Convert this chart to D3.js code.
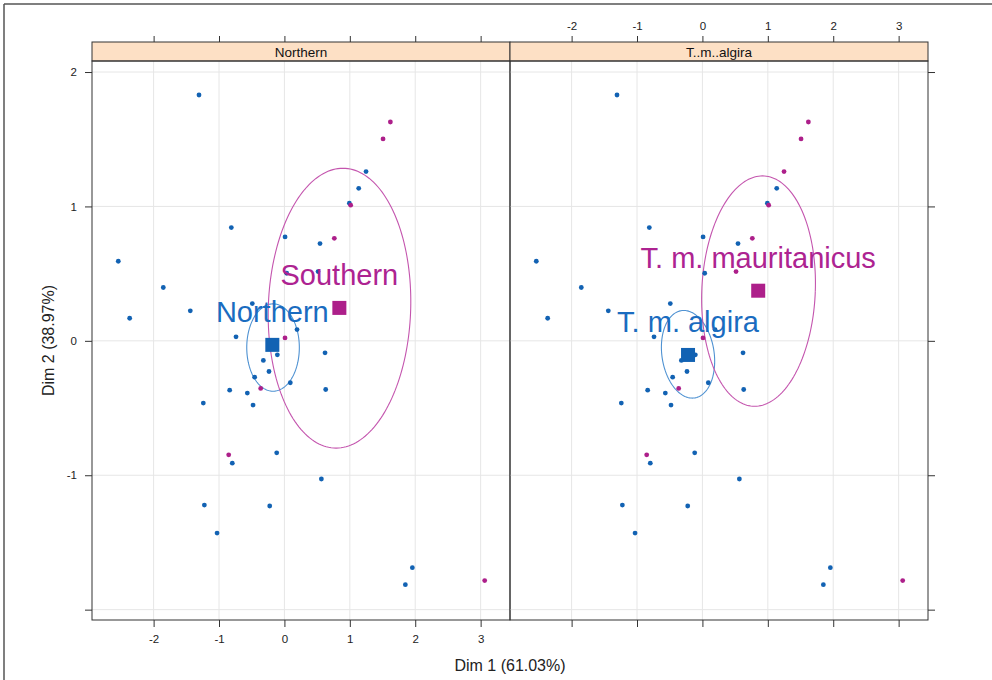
<!DOCTYPE html>
<html>
<head>
<meta charset="utf-8">
<script src="https://cdn.jsdelivr.net/npm/d3@7"></script>
<style>
  body { margin: 0; background: #fff; }
  svg { font-family: "Liberation Sans", Arial, sans-serif; }
</style>
</head>
<body>
<svg id="chart" width="992" height="680"></svg>
<script>
// individual scores on the first two dimensions
const dim1 = [-1.306, 1.62, 1.508, 1.248, 1.136, 0.993, 1.013, -0.812, 0.01, 0.544,
  0.763, -2.54, -1.852, -2.366, -1.439, -0.491, 0.035, 0.514, 0.193, -0.74,
  0.009, -0.108, 0.621, -0.322, -0.236, -0.455, 0.09, -0.363, -0.837, -0.567,
  0.631, -1.24, -0.48, -0.852, -0.797, -0.118, 0.565, -1.224, -0.225, -1.03,
  1.956, 1.849, 3.062];
const dim2 = [1.829, 1.628, 1.502, 1.259, 1.135, 1.024, 1.009, 0.843, 0.773, 0.724,
  0.763, 0.592, 0.397, 0.168, 0.223, 0.277, 0.503, 0.515, 0.084, 0.03,
  0.022, -0.104, -0.089, -0.146, -0.228, -0.27, -0.312, -0.354, -0.367, -0.389,
  -0.362, -0.463, -0.478, -0.848, -0.91, -0.833, -1.028, -1.222, -1.229, -1.43,
  -1.688, -1.814, -1.784];
const region = ['N','S','S','N','N','N','S','N','N','N',
  'S','N','N','N','N','N','N','N','N','N',
  'S','N','N','N','N','N','N','S','N','N',
  'N','N','N','S','N','N','N','N','N','N',
  'N','N','S'];
const subsp = ['A','M','M','M','A','A','M','A','A','A',
  'M','A','A','A','A','A','A','M','A','A',
  'M','A','A','A','A','A','A','M','A','A',
  'A','A','A','M','A','A','A','A','A','A',
  'A','A','M'];

const panelNames = ['Northern', 'T..m..algira'];
const xTicks = [-2, -1, 0, 1, 2, 3];
const xTickLabels = ['-2', '-1', '0', '1', '2', '3'];
const yTicks = [-2, -1, 0, 1, 2];
const yTickLabels = ['', '-1', '0', '1', '2'];

// group centroids, labels and ellipses per panel (first = blue group, second = magenta group)
const groupLabels = [['Northern', 'Southern'], ['T. m. algira', 'T. m. mauritanicus']];
const centroidX = [[-0.185, 0.84], [-0.22, 0.853]];
const centroidY = [[-0.03, 0.245], [-0.105, 0.373]];
const ellipseCx = [[-0.174, 0.842], [-0.22, 0.858]];
const ellipseCy = [[-0.05, 0.243], [-0.1, 0.37]];
const ellipseRx = [[0.402, 1.089], [0.402, 0.868]];
const ellipseRy = [[0.325, 1.041], [0.326, 0.857]];
const ellipseTilt = [[0, 0.05], [-0.2, 0.07]];

const BLUE = '#1262b3';
const MAGENTA = '#ad1f8a';
const ELL = ['#4f92d2', '#c455ae'];

const PANEL_W = 418;
const LEFT = 92;
const STRIP_TOP = 42;
const STRIP_H = 19;
const PANEL_TOP = STRIP_TOP + STRIP_H;
const PANEL_BOTTOM = 620;

const svg = d3.select('#chart');

// outer frame
svg.append('line').attr('x1', 4).attr('x2', 992).attr('y1', 4).attr('y2', 4)
  .attr('stroke', '#555').attr('stroke-width', 1.5);
svg.append('line').attr('x1', 4).attr('x2', 4).attr('y1', 4).attr('y2', 680)
  .attr('stroke', '#555').attr('stroke-width', 1.5);

const y = d3.scaleLinear().domain([-2.077, 2.082]).range([PANEL_BOTTOM, PANEL_TOP]);

const points = dim1.map((d, i) => ({x: d, y: dim2[i], g: [region[i] === 'S' ? 1 : 0, subsp[i] === 'M' ? 1 : 0]}));

const styleAxis = a => {
  a.select('.domain').remove();
  a.selectAll('line').attr('stroke', '#333');
  a.selectAll('text').attr('font-size', 11.5).attr('fill', '#222')
    .attr('font-family', '"Liberation Sans", Arial, sans-serif');
};

panelNames.forEach((name, p) => {
  const x0 = LEFT + p * PANEL_W;
  const x = d3.scaleLinear().domain([-2.942, 3.449]).range([x0, x0 + PANEL_W]);
  const g = svg.append('g');

  // grid
  g.selectAll('.vgrid').data(xTicks).enter().append('line')
    .attr('x1', d => x(d)).attr('x2', d => x(d))
    .attr('y1', PANEL_TOP).attr('y2', PANEL_BOTTOM)
    .attr('stroke', '#e6e6e6').attr('stroke-width', 1);
  g.selectAll('.hgrid').data(yTicks).enter().append('line')
    .attr('x1', x0).attr('x2', x0 + PANEL_W)
    .attr('y1', d => y(d)).attr('y2', d => y(d))
    .attr('stroke', '#e6e6e6').attr('stroke-width', 1);

  // ellipses
  [0, 1].forEach(k => {
    const pts = d3.range(0, 2 * Math.PI + 0.01, Math.PI / 90).map(t => [
      ellipseCx[p][k] + ellipseRx[p][k] * Math.cos(t) + ellipseTilt[p][k] * ellipseRy[p][k] * Math.sin(t),
      ellipseCy[p][k] + ellipseRy[p][k] * Math.sin(t)
    ]);
    g.append('path')
      .attr('d', d3.line().x(d => x(d[0])).y(d => y(d[1]))(pts))
      .attr('fill', 'none').attr('stroke', ELL[k]).attr('stroke-width', 1.1);
  });

  // individuals
  g.selectAll('.pt').data(points).enter().append('circle')
    .attr('cx', d => x(d.x)).attr('cy', d => y(d.y)).attr('r', 2.4)
    .attr('fill', d => d.g[p] ? MAGENTA : BLUE);

  // centroids
  [0, 1].forEach(k => {
    g.append('rect')
      .attr('x', x(centroidX[p][k]) - 7).attr('y', y(centroidY[p][k]) - 7)
      .attr('width', 14).attr('height', 14)
      .attr('fill', k ? MAGENTA : BLUE);
    g.append('text')
      .attr('x', x(centroidX[p][k])).attr('y', y(centroidY[p][k]) - 23)
      .attr('text-anchor', 'middle').attr('font-size', 29)
      .attr('fill', k ? '#ad2391' : '#1a6cc0')
      .text(groupLabels[p][k]);
  });

  // strip
  g.append('rect').attr('x', x0).attr('y', STRIP_TOP).attr('width', PANEL_W).attr('height', STRIP_H)
    .attr('fill', '#fde0c5').attr('stroke', '#333').attr('stroke-width', 1);
  g.append('text').attr('x', x0 + PANEL_W / 2).attr('y', STRIP_TOP + 15)
    .attr('text-anchor', 'middle').attr('font-size', 13.5).attr('fill', '#111').text(name);

  // panel border
  g.append('rect').attr('x', x0).attr('y', PANEL_TOP).attr('width', PANEL_W)
    .attr('height', PANEL_BOTTOM - PANEL_TOP)
    .attr('fill', 'none').attr('stroke', '#333').attr('stroke-width', 1);

  // top and bottom axes: labels alternate between panels
  const top = g.append('g').attr('transform', `translate(0,${STRIP_TOP})`)
    .call(d3.axisTop(x).tickValues(xTicks).tickSize(6).tickPadding(6)
      .tickFormat((d, i) => p === 1 ? xTickLabels[i] : ''));
  const bottom = g.append('g').attr('transform', `translate(0,${PANEL_BOTTOM})`)
    .call(d3.axisBottom(x).tickValues(xTicks).tickSize(7).tickPadding(8)
      .tickFormat((d, i) => p === 0 ? xTickLabels[i] : ''));
  styleAxis(top);
  styleAxis(bottom);
});

// left and right axes
const leftAxis = svg.append('g').attr('transform', `translate(${LEFT},0)`)
  .call(d3.axisLeft(y).tickValues(yTicks).tickSize(7).tickPadding(8)
    .tickFormat((d, i) => yTickLabels[i]));
const rightAxis = svg.append('g').attr('transform', `translate(${LEFT + 2 * PANEL_W},0)`)
  .call(d3.axisRight(y).tickValues(yTicks).tickSize(7).tickFormat(''));
styleAxis(leftAxis);
styleAxis(rightAxis);

// axis titles
svg.append('text').attr('x', LEFT + PANEL_W).attr('y', 671)
  .attr('text-anchor', 'middle').attr('font-size', 16).attr('fill', '#222')
  .text('Dim 1 (61.03%)');
svg.append('text')
  .attr('transform', `translate(54,${(PANEL_TOP + PANEL_BOTTOM) / 2}) rotate(-90)`)
  .attr('text-anchor', 'middle').attr('font-size', 16).attr('fill', '#222')
  .text('Dim 2 (38.97%)');
</script>
</body>
</html>
